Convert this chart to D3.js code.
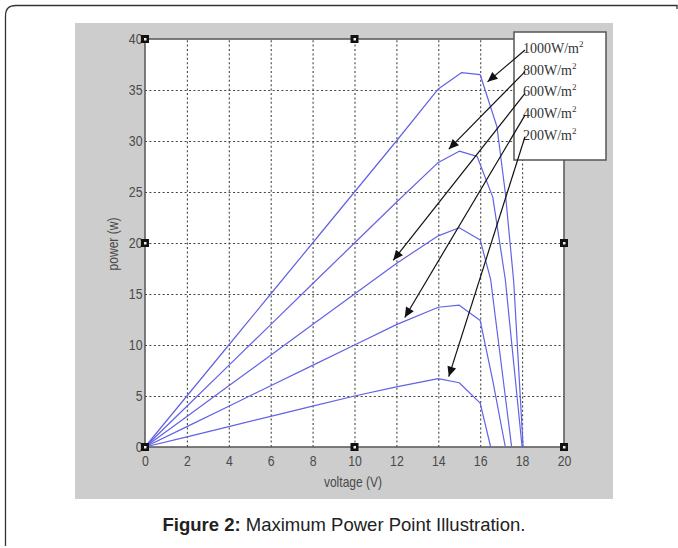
<!DOCTYPE html>
<html>
<head>
<meta charset="utf-8">
<script src="https://cdn.jsdelivr.net/npm/d3@7"></script>
<style>
  body { margin: 0; background: #fff; }
  svg { display: block; }
  .axis text { font-family: "Liberation Sans", Arial, sans-serif; font-size: 15px; fill: #4a4a4a; }
  .axis .domain { display: none; }
  .grid line { stroke: #444; stroke-width: 1.1; stroke-dasharray: 2, 2.4; }
  .grid .domain { display: none; }
  .axis-label { font-family: "Liberation Sans", Arial, sans-serif; font-size: 14px; fill: #4a4a4a; }
  .curve { fill: none; stroke: #6262e4; stroke-width: 1.2; stroke-linejoin: round; }
  .legend text { font-family: "Liberation Serif", "Times New Roman", serif; font-size: 14px; fill: #333; }
  .caption { font-family: "Liberation Sans", Arial, sans-serif; font-size: 18.5px; fill: #222; }
</style>
</head>
<body>
<svg width="678" height="548"></svg>
<script>
// Irradiance levels, in legend order (W/m2)
const irradiance = [1000, 800, 600, 400, 200];

// P-V curves: [voltage (V), power (W)]
const curve1000 = [[0, 0], [2, 5], [4, 10], [6, 15], [8, 20], [10, 25], [12, 30], [14, 35.1], [15.1, 36.7], [16, 36.5], [16.8, 31.4], [17.2, 24.9], [17.6, 16.2], [18.05, 0]];
const curve800 = [[0, 0], [2, 4], [4, 8], [6, 12], [8, 16], [10, 20], [12, 24], [14, 27.9], [15, 29], [15.85, 28.5], [16.6, 24.5], [17.2, 16.4], [18, 0]];
const curve600 = [[0, 0], [2, 3], [4, 6], [6, 9], [8, 12], [10, 15], [12, 18], [14, 20.7], [15, 21.5], [16, 20.3], [16.5, 16.4], [17.5, 0]];
const curve400 = [[0, 0], [2, 2], [4, 4], [6, 6], [8, 8], [10, 10], [12, 12], [14, 13.7], [15, 13.9], [16, 12.4], [16.6, 6.5], [17.2, 0]];
const curve200 = [[0, 0], [2, 1], [4, 2], [6, 3], [8, 4], [10, 5], [12, 5.9], [14, 6.7], [15, 6.3], [16, 4.3], [16.5, 0]];

const curves = [curve1000, curve800, curve600, curve400, curve200];

// Where each legend arrow points on its curve [V, W]
const arrowTips = [[16.35, 35.8], [14.5, 29.2], [11.85, 18.3], [12.4, 12.7], [14.5, 6.9]];

// Figure editor handles left on the axes box [V, W]
const handles = [[0, 40], [10, 40], [0, 20], [20, 20], [0, 0], [10, 0], [20, 0]];

const xTicks = [0, 2, 4, 6, 8, 10, 12, 14, 16, 18, 20];
const yTicks = [0, 5, 10, 15, 20, 25, 30, 35, 40];

// Setup SVG
const svg = d3.select("svg");

// outer frame (left + top edge of the page box)
svg
  .append("path")
  .attr("d", "M5.5,546 L5.5,16 Q5.5,5.5 16,5.5 L677,5.5 L677,9")
  .attr("fill", "none")
  .attr("stroke", "#333")
  .attr("stroke-width", 1.3);

// grey figure window
svg
  .append("rect")
  .attr("x", 75)
  .attr("y", 23)
  .attr("width", 538)
  .attr("height", 476)
  .attr("fill", "#cdcdcd");

const x = d3.scaleLinear().domain([0, 20]).range([145, 564]);
const y = d3.scaleLinear().domain([0, 40]).range([447, 39]);

const plotW = x(20) - x(0);
const plotH = y(0) - y(40);

// white axes background
svg
  .append("rect")
  .attr("x", x(0))
  .attr("y", y(40))
  .attr("width", plotW)
  .attr("height", plotH)
  .attr("fill", "#fff");

// Grid
svg
  .append("g")
  .attr("class", "grid")
  .attr("transform", `translate(0,${y(0)})`)
  .call(d3.axisBottom(x).tickValues(xTicks.slice(1, -1)).tickSize(-plotH).tickFormat(""));

svg
  .append("g")
  .attr("class", "grid")
  .attr("transform", `translate(${x(0)},0)`)
  .call(d3.axisLeft(y).tickValues(yTicks.slice(1, -1)).tickSize(-plotW).tickFormat(""));

// Axes box
svg
  .append("rect")
  .attr("x", x(0))
  .attr("y", y(40))
  .attr("width", plotW)
  .attr("height", plotH)
  .attr("fill", "none")
  .attr("stroke", "#555")
  .attr("stroke-width", 1.5);

// Tick labels (narrow, like the MATLAB screen font)
svg
  .append("g")
  .attr("class", "axis")
  .attr("transform", `translate(0,${y(0)})`)
  .call(d3.axisBottom(x).tickValues(xTicks).tickSize(0).tickPadding(8))
  .selectAll("text")
  .attr("dy", "0.71em")
  .attr("transform", "scale(0.82,1)");

svg
  .append("g")
  .attr("class", "axis")
  .attr("transform", `translate(${x(0)},0)`)
  .call(d3.axisLeft(y).tickValues(yTicks).tickSize(0).tickPadding(3))
  .selectAll("text")
  .attr("transform", "scale(0.82,1)");

// Axis labels
svg
  .append("text")
  .attr("class", "axis-label")
  .attr("transform", "translate(353,487) scale(0.86,1)")
  .attr("text-anchor", "middle")
  .text("voltage (V)");

svg
  .append("text")
  .attr("class", "axis-label")
  .attr("transform", "translate(118,244) rotate(-90) scale(0.86,1)")
  .attr("text-anchor", "middle")
  .text("power (w)");

// Curves
const line = d3
  .line()
  .x(function (d) {
    return x(d[0]);
  })
  .y(function (d) {
    return y(d[1]);
  });

svg
  .append("g")
  .selectAll(".curve")
  .data(curves)
  .enter()
  .append("path")
  .attr("class", "curve")
  .attr("d", line);

// Handles
const handle = svg
  .append("g")
  .selectAll("g")
  .data(handles)
  .enter()
  .append("g")
  .attr("transform", function (d) {
    return `translate(${x(d[0])},${y(d[1])})`;
  });

handle
  .append("rect")
  .attr("x", -4)
  .attr("y", -4)
  .attr("width", 8)
  .attr("height", 8)
  .attr("fill", "#111");

handle
  .append("rect")
  .attr("x", -1)
  .attr("y", -1)
  .attr("width", 2.5)
  .attr("height", 2.5)
  .attr("fill", "#eee");

// Legend box
const legendX = 514;
const legendY = 32;
const rowStep = 21.7;
const firstBaseline = 53;

const legend = svg.append("g").attr("class", "legend");

legend
  .append("rect")
  .attr("x", legendX)
  .attr("y", legendY)
  .attr("width", 92)
  .attr("height", 128)
  .attr("fill", "#fff")
  .attr("stroke", "#555")
  .attr("stroke-width", 1.5);

const labels = legend
  .selectAll(".row")
  .data(irradiance)
  .enter()
  .append("text")
  .attr("class", "row")
  .attr("x", legendX + 9)
  .attr("y", function (d, i) {
    return firstBaseline + i * rowStep;
  });

labels.append("tspan").text(function (d) {
  return d + "W/m";
});
labels
  .append("tspan")
  .attr("dy", -6)
  .attr("font-size", 9)
  .text("2");

// Arrows from legend entries to curves
svg
  .append("defs")
  .append("marker")
  .attr("id", "head")
  .attr("viewBox", "0 -5 10 10")
  .attr("refX", 10)
  .attr("refY", 0)
  .attr("markerUnits", "userSpaceOnUse")
  .attr("markerWidth", 11)
  .attr("markerHeight", 10)
  .attr("orient", "auto")
  .append("path")
  .attr("d", "M0,-4.5L10,0L0,4.5Z")
  .attr("fill", "#111");

svg
  .append("g")
  .selectAll("line")
  .data(arrowTips)
  .enter()
  .append("line")
  .attr("x1", legendX + 11)
  .attr("y1", function (d, i) {
    return firstBaseline + i * rowStep - 3;
  })
  .attr("x2", function (d) {
    return x(d[0]);
  })
  .attr("y2", function (d) {
    return y(d[1]);
  })
  .attr("stroke", "#111")
  .attr("stroke-width", 1.2)
  .attr("marker-end", "url(#head)");

// Caption
const caption = svg
  .append("text")
  .attr("class", "caption")
  .attr("x", 344)
  .attr("y", 531)
  .attr("text-anchor", "middle");

caption.append("tspan").attr("font-weight", "bold").text("Figure 2:");
caption.append("tspan").text(" Maximum Power Point Illustration.");
</script>
</body>
</html>
